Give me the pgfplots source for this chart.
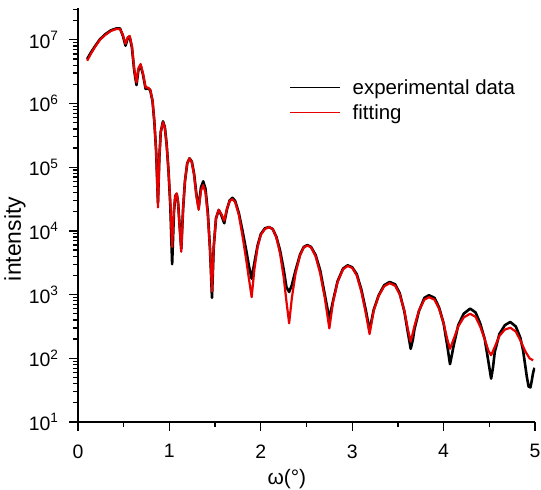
\documentclass[border=0pt]{standalone}
\usepackage{pgfplots}
\pgfplotsset{compat=1.18}
\usepackage{fontspec}
\setmainfont{Liberation Sans}
\definecolor{fitred}{RGB}{230,0,0}
\begin{document}
\begin{tikzpicture}
\begin{axis}[
  scale only axis, width=457bp, height=414bp,
  xmin=0, xmax=5,
  ymode=log, log basis y=10, ymin=10, ymax=3.1623e7,
  axis x line*=bottom, axis y line*=left,
  axis line style={line width=1.6bp, -},
  every tick/.style={black, line width=1.3bp},
  tick align=outside,
  major tick length=9bp, minor tick length=5bp,
  xtick={0,1,2,3,4,5}, minor xtick={0.5,1.5,2.5,3.5,4.5},
  ytick={1e1,1e2,1e3,1e4,1e5,1e6,1e7},
  minor ytick={20,30,40,50,60,70,80,90,200,300,400,500,600,700,800,900,
    2000,3000,4000,5000,6000,7000,8000,9000,2e4,3e4,4e4,5e4,6e4,7e4,8e4,9e4,
    2e5,3e5,4e5,5e5,6e5,7e5,8e5,9e5,2e6,3e6,4e6,5e6,6e6,7e6,8e6,9e6,2e7,3e7},
  /pgf/number format/assume math mode=true,
  xticklabel style={font=\fontsize{19.5}{22}\selectfont, yshift=-10bp},
  yticklabel style={font=\fontsize{19.5}{22}\selectfont, xshift=-7bp},
  yticklabel={10\textsuperscript{\pgfmathparse{int(round(\tick))}\pgfmathresult}},
  xlabel={ω(°)}, ylabel={intensity},
  xlabel style={font=\fontsize{21}{24}\selectfont, at={(axis description cs:0.457,-0.137)}, anchor=center},
  ylabel style={font=\fontsize{23}{26}\selectfont, at={(axis description cs:-0.138,0.442)}, anchor=center, rotate=0},
  legend style={draw=none, fill=none, at={(0.455,0.838)}, anchor=north west,
    font=\fontsize{20.5}{24}\selectfont, row sep=5bp, column sep=10bp},
  legend cell align=left,
  legend image code/.code={\draw[#1, line width=1.6bp] (0bp,0bp) -- (50bp,0bp);},
]
\coordinate (SW) at (rel axis cs:0,0);
\coordinate (NE) at (rel axis cs:1,1);
\addplot[black, line width=2.6bp, line join=round] coordinates {
(0.10,5.0e6) (0.14,6.3e6) (0.19,8.1e6) (0.24,1.02e7) (0.30,1.23e7) (0.36,1.41e7)
(0.42,1.51e7) (0.46,1.51e7) (0.49,1.17e7) (0.52,8.1e6) (0.545,1.07e7) (0.565,1.12e7)
(0.59,7.6e6) (0.615,3.3e6) (0.64,1.95e6) (0.66,3.3e6) (0.685,3.98e6) (0.71,2.9e6)
(0.74,1.7e6) (0.765,1.74e6) (0.79,1.62e6) (0.815,1.1e6) (0.835,5.25e5) (0.855,1.78e5)
(0.875,2.8e4) (0.89,1.41e5) (0.905,3.55e5) (0.93,5.25e5) (0.95,4.27e5) (0.97,2.3e5)
(0.99,8.9e4) (1.01,2.5e4) (1.03,3.0e3) (1.05,2.0e4) (1.065,3.55e4) (1.08,3.8e4)
(1.095,2.8e4) (1.11,1.32e4) (1.13,5.25e3) (1.15,2.24e4) (1.17,6.0e4) (1.195,1.15e5)
(1.22,1.38e5) (1.245,1.23e5) (1.27,7.9e4) (1.295,3.8e4) (1.32,2.3e4) (1.345,4.8e4)
(1.37,6.0e4) (1.395,4.57e4) (1.42,2.0e4) (1.445,5.0e3) (1.466,891) (1.485,5.6e3)
(1.51,1.58e4) (1.54,2.14e4) (1.57,1.74e4) (1.60,1.32e4) (1.63,2.19e4) (1.66,3.02e4)
(1.69,3.31e4) (1.72,2.95e4) (1.76,1.9e4) (1.80,1.0e4) (1.84,5.0e3) (1.87,2.82e3)
(1.90,1.78e3) (1.93,3.16e3) (1.965,5.9e3) (2.00,8.9e3) (2.045,1.1e4) (2.09,1.15e4)
(2.13,1.07e4) (2.17,8.1e3) (2.21,5.0e3) (2.25,2.5e3) (2.28,1.32e3) (2.31,1.1e3)
(2.34,1.41e3) (2.38,2.4e3) (2.43,4.27e3) (2.47,5.6e3) (2.51,6.0e3) (2.55,5.6e3)
(2.60,4.17e3) (2.65,2.4e3) (2.70,1.0e3) (2.75,417) (2.79,794) (2.84,1.62e3)
(2.90,2.57e3) (2.95,2.88e3) (3.00,2.69e3) (3.05,2.09e3) (3.10,1.2e3) (3.15,562)
(3.19,275) (3.235,575) (3.29,977) (3.35,1.41e3) (3.41,1.58e3) (3.47,1.45e3)
(3.52,1.05e3) (3.57,550) (3.61,251) (3.64,141) (3.665,200) (3.68,282)
(3.73,550) (3.79,891) (3.84,977) (3.90,891) (3.95,631) (4.00,355)
(4.04,158) (4.07,81) (4.09,112) (4.11,158) (4.16,331) (4.22,501)
(4.29,603) (4.35,525) (4.40,355) (4.45,200) (4.49,89) (4.52,48)
(4.54,71) (4.56,126) (4.61,240) (4.67,331) (4.73,372) (4.79,316)
(4.84,209) (4.87,132) (4.89,83) (4.91,52) (4.93,36) (4.95,35)
(4.965,45) (4.98,60) (4.995,71)
};
\addlegendentry{experimental data}
\addplot[fitred, line width=2.2bp, line join=round] coordinates {
(0.10,4.7e6) (0.14,6.0e6) (0.19,7.9e6) (0.24,1.0e7) (0.30,1.2e7) (0.36,1.38e7)
(0.42,1.48e7) (0.46,1.48e7) (0.49,1.2e7) (0.52,8.7e6) (0.545,1.1e7) (0.565,1.15e7)
(0.59,7.9e6) (0.615,3.5e6) (0.64,2.14e6) (0.66,3.55e6) (0.685,4.17e6) (0.71,3.0e6)
(0.74,1.78e6) (0.765,1.78e6) (0.79,1.66e6) (0.815,1.12e6) (0.835,5.25e5) (0.855,1.78e5)
(0.875,2.34e4) (0.89,1.41e5) (0.905,3.55e5) (0.93,5.1e5) (0.95,4.17e5) (0.97,2.24e5)
(0.99,8.9e4) (1.01,2.8e4) (1.03,5.6e3) (1.05,2.24e4) (1.065,3.55e4) (1.08,3.9e4)
(1.095,2.8e4) (1.11,1.26e4) (1.13,4.7e3) (1.15,2.24e4) (1.17,6.0e4) (1.195,1.15e5)
(1.22,1.38e5) (1.245,1.2e5) (1.27,7.6e4) (1.295,3.55e4) (1.32,2.14e4) (1.345,4.27e4)
(1.37,5.25e4) (1.395,3.98e4) (1.42,1.78e4) (1.445,5.0e3) (1.466,1.12e3) (1.485,5.6e3)
(1.51,1.58e4) (1.54,2.14e4) (1.57,1.82e4) (1.60,1.45e4) (1.63,2.24e4) (1.66,2.95e4)
(1.69,3.16e4) (1.72,2.82e4) (1.76,1.78e4) (1.80,8.3e3) (1.84,3.55e3) (1.87,1.78e3)
(1.90,912) (1.93,2.5e3) (1.965,5.6e3) (2.00,8.7e3) (2.045,1.07e4) (2.09,1.15e4)
(2.13,1.07e4) (2.17,7.9e3) (2.21,4.47e3) (2.25,1.9e3) (2.28,794) (2.31,355)
(2.34,891) (2.38,2.14e3) (2.43,4.17e3) (2.47,5.5e3) (2.51,5.9e3) (2.55,5.5e3)
(2.60,3.98e3) (2.65,2.14e3) (2.70,891) (2.75,295) (2.79,759) (2.84,1.58e3)
(2.90,2.5e3) (2.95,2.82e3) (3.00,2.63e3) (3.05,2.0e3) (3.10,1.12e3) (3.15,501)
(3.19,240) (3.235,562) (3.29,955) (3.35,1.35e3) (3.41,1.51e3) (3.47,1.38e3)
(3.52,1.0e3) (3.57,562) (3.61,282) (3.64,182) (3.68,316) (3.73,562)
(3.79,832) (3.84,912) (3.90,832) (3.95,603) (4.00,355) (4.04,200)
(4.07,141) (4.11,200) (4.16,316) (4.22,437) (4.29,501) (4.35,447)
(4.40,316) (4.45,200) (4.49,132) (4.52,112) (4.56,151) (4.61,224)
(4.67,282) (4.73,302) (4.79,263) (4.84,191) (4.89,132) (4.94,100) (4.98,93)
};
\addlegendentry{fitting}
\end{axis}
\pgfresetboundingbox
\path ([shift={(-78bp,-68bp)}]SW) rectangle ([shift={(6bp,8bp)}]NE);
\end{tikzpicture}
\end{document}
